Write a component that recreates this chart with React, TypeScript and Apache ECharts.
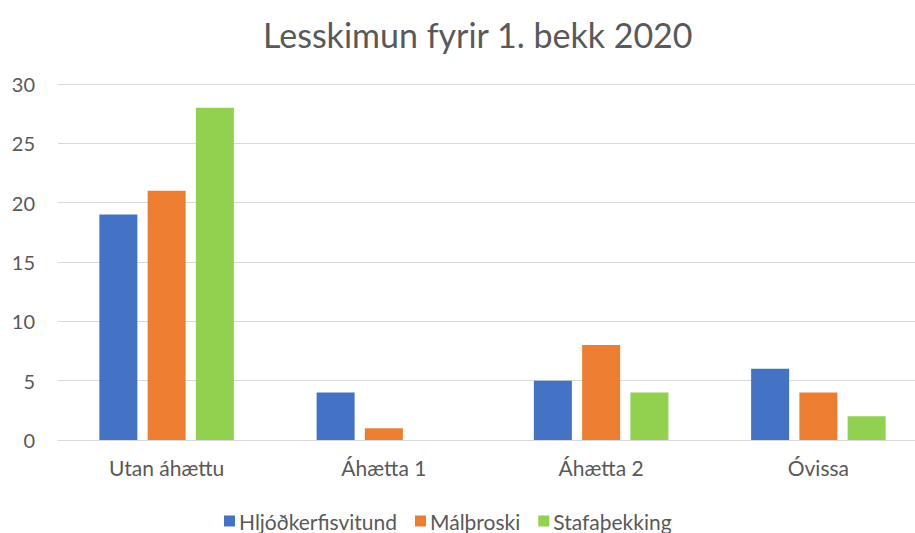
import React, { useEffect, useRef } from "react";
import * as echarts from "echarts";

const categories = ["Utan áhættu", "Áhætta 1", "Áhætta 2", "Óvissa"];
const seriesNames = ["Hljóðkerfisvitund", "Málþroski", "Stafaþekking"];
const hljod = [19, 4, 5, 6];
const malthroski = [21, 1, 8, 4];
const stafa = [28, 0, 4, 2];
const colors = ["#4472C4", "#ED7D31", "#92D050"];

export default function App() {
  const ref = useRef<HTMLDivElement>(null);
  useEffect(() => {
    if (!ref.current) return;
    const chart = echarts.init(ref.current, undefined, { renderer: "svg" });
    const values = [hljod, malthroski, stafa];
    chart.setOption({
      animation: false,
      title: {
        text: "Lesskimun fyrir 1. bekk 2020",
        left: 258,
        top: 12,
        textStyle: { fontFamily: "Lato", fontSize: 34, fontWeight: "normal", color: "#595959" },
      },
      legend: {
        top: 505,
        left: 219,
        itemWidth: 11,
        itemHeight: 11,
        itemGap: 18,
        icon: "rect",
        textStyle: { fontFamily: "Lato", fontSize: 21, lineHeight: 22, color: "#595959", padding: [0, 0, 0, -1] },
        data: seriesNames,
      },
      grid: { left: 58, right: 3, top: 84, bottom: 93 },
      xAxis: {
        type: "category",
        data: categories,
        axisLine: { lineStyle: { color: "#D9D9D9" } },
        axisTick: { show: false },
        axisLabel: { fontFamily: "Lato", fontSize: 21, color: "#595959", margin: 17 },
      },
      yAxis: {
        type: "value",
        min: 0,
        max: 30,
        interval: 5,
        axisLine: { show: false },
        axisTick: { show: false },
        splitLine: { lineStyle: { color: "#D9D9D9" } },
        axisLabel: { fontFamily: "Lato", fontSize: 20, color: "#595959", margin: 23 },
      },
      series: seriesNames.map((name, i) => ({
        name,
        type: "bar",
        data: values[i],
        barWidth: 38,
        barGap: "27%",
        itemStyle: { color: colors[i] },
      })),
    });
    return () => chart.dispose();
  }, []);
  return (
    <div
      style={{ position: "absolute", left: 0, top: 0, width: 915, height: 533, overflow: "hidden", background: "#fff" }}
    >
      <div ref={ref} style={{ width: 930, height: 533 }} />
    </div>
  );
}
